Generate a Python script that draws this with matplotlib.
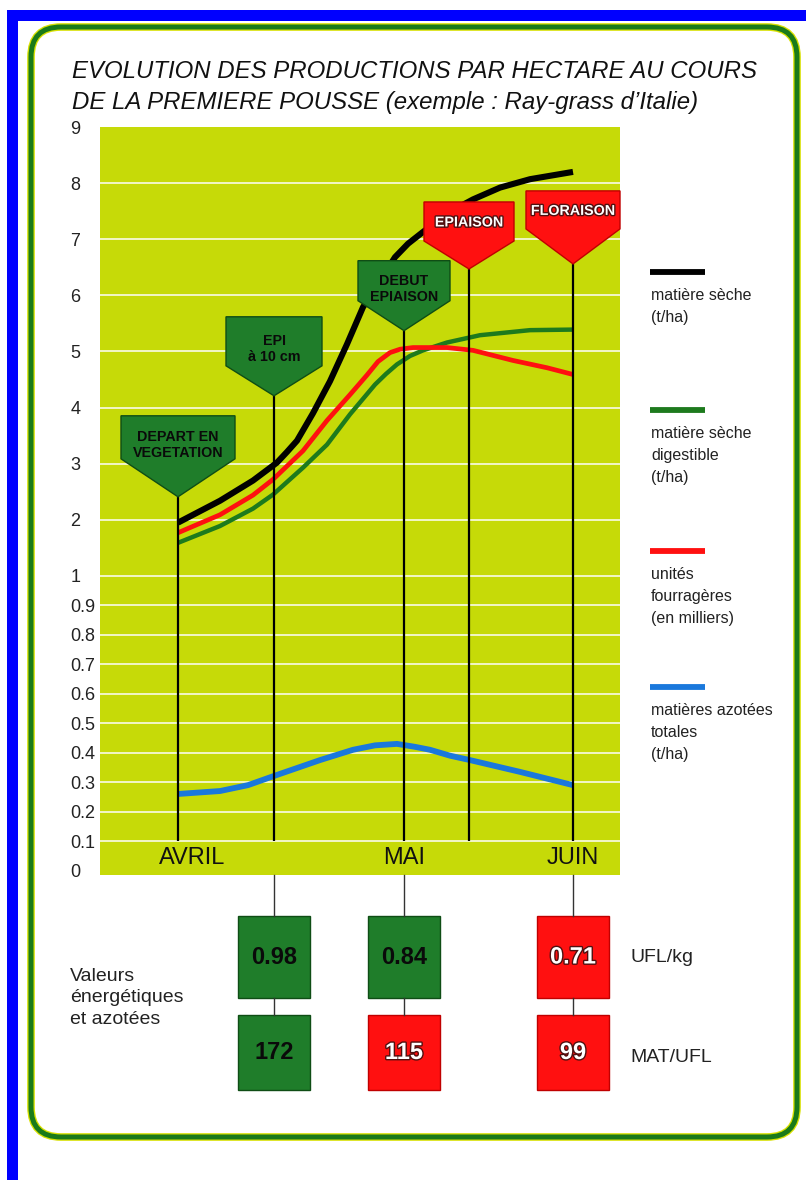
import numpy as np
import matplotlib
matplotlib.use("Agg")
import matplotlib.pyplot as plt
import matplotlib.patheffects as pe
from matplotlib.patches import Polygon, Rectangle, FancyBboxPatch
from matplotlib.lines import Line2D
from matplotlib.transforms import blended_transform_factory, IdentityTransform

plt.rcParams['font.family'] = ['Liberation Sans', 'DejaVu Sans']

W, H = 806, 1180

# stades phenologiques (axe x en jours, origine arbitraire)
stades = ["DEPART EN\nVEGETATION", "EPI\nà 10 cm", "DEBUT\nEPIAISON", "EPIAISON", "FLORAISON"]
stades_x = [15.6, 34.8, 60.8, 73.8, 94.6]
mois = ["AVRIL", "MAI", "JUIN"]
mois_x = [18.4, 60.8, 94.6]

# matiere seche (t/ha)
ms_x = [15.6, 24.0, 30.6, 35.4, 37.4, 39.4, 42.6, 46.0, 49.4, 52.6, 56.0, 59.0, 61.6,
        64.6, 69.6, 74.6, 80.0, 86.0, 94.6]
ms_y = [1.95, 2.34, 2.70, 3.02, 3.21, 3.41, 3.90, 4.47, 5.13, 5.79, 6.26, 6.68, 6.92,
        7.13, 7.47, 7.71, 7.92, 8.07, 8.20]

# matiere seche digestible (t/ha)
msd_x = [15.6, 24.0, 30.6, 34.6, 40.6, 45.4, 50.0, 55.0, 57.2, 59.4, 62.0, 64.6, 69.4,
         76.0, 86.0, 94.6]
msd_y = [1.59, 1.89, 2.20, 2.45, 2.93, 3.34, 3.88, 4.41, 4.60, 4.77, 4.92, 5.02, 5.16,
         5.29, 5.38, 5.39]

# unites fourrageres (milliers)
uf_x = [15.6, 24.0, 30.6, 34.6, 40.6, 45.4, 50.0, 53.4, 55.6, 58.0, 60.0, 62.6, 69.4,
        74.6, 82.6, 89.4, 94.6]
uf_y = [1.77, 2.09, 2.44, 2.72, 3.23, 3.77, 4.23, 4.58, 4.82, 4.98, 5.04, 5.07, 5.07,
        5.02, 4.84, 4.71, 4.59]

# matieres azotees totales (t/ha)
mat_x = [15.6, 24.0, 29.6, 34.6, 44.0, 50.6, 55.0, 59.4, 63.0, 66.0, 70.0, 74.0, 84.0, 94.6]
mat_y = [0.26, 0.27, 0.29, 0.32, 0.375, 0.41, 0.425, 0.43, 0.42, 0.41, 0.39, 0.375, 0.335, 0.29]

yticks = [0, 0.1, 0.2, 0.3, 0.4, 0.5, 0.6, 0.7, 0.8, 0.9, 1, 2, 3, 4, 5, 6, 7, 8, 9]
ytick_labels = ["0", "0.1", "0.2", "0.3", "0.4", "0.5", "0.6", "0.7", "0.8", "0.9",
                "1", "2", "3", "4", "5", "6", "7", "8", "9"]
grid_y = [0.1, 0.2, 0.3, 0.4, 0.5, 0.6, 0.7, 0.8, 0.9, 1, 2, 3, 4, 5, 6, 7, 8]

# valeurs energetiques et azotees
boites_stade = [1, 2, 4]
ufl_kg = [0.98, 0.84, 0.71]
mat_ufl = [172, 115, 99]

legende = ["matière sèche\n(t/ha)", "matière sèche\ndigestible\n(t/ha)",
           "unités\nfourragères\n(en milliers)", "matières azotées\ntotales\n(t/ha)"]

VERT = '#1f7d2a'
VERT_F = '#0f4d15'
ROUGE = '#ff1010'
ROUGE_F = '#c00000'
BLEU = '#1a78dc'

# echelle en deux morceaux : 0-1 dilate, 1-9 normal
K = 5.25


def fwd(y):
    y = np.asarray(y, dtype=float)
    return np.where(y <= 1, y * K, K + (y - 1))


def inv(t):
    t = np.asarray(t, dtype=float)
    return np.where(t <= K, t / K, 1 + (t - K))


fig = plt.figure(figsize=(W / 100, H / 100), dpi=100)
fig.patch.set_facecolor('white')

px = IdentityTransform()
# cadre bleu
fig.add_artist(Rectangle((7, 0), 11, H - 10, transform=px, fc='#0000ff', ec='none'))
fig.add_artist(Rectangle((7, H - 21), W - 7, 11, transform=px, fc='#0000ff', ec='none'))
# cadre vert arrondi
fig.add_artist(FancyBboxPatch((31, H - 1137), 766, 1110, boxstyle="round,pad=0,rounding_size=30",
                              transform=px, fc='none', ec='#d8e000', lw=5.5))
fig.add_artist(FancyBboxPatch((31, H - 1137), 766, 1110, boxstyle="round,pad=0,rounding_size=30",
                              transform=px, fc='none', ec='#1a7a1a', lw=3.6))

fig.text(72 / W, 1 - 72 / H, "EVOLUTION DES PRODUCTIONS PAR HECTARE AU COURS",
         style='italic', fontsize=17.3, ha='left', va='center', color='#111')
fig.text(72 / W, 1 - 103 / H, "DE LA PREMIERE POUSSE (exemple : Ray-grass d’Italie)",
         style='italic', fontsize=17.3, ha='left', va='center', color='#111')

ax = fig.add_axes([100 / W, (H - 875) / H, 520 / W, (875 - 127) / H])
ax.set_yscale('function', functions=(fwd, inv))
ax.set_xlim(0, 104)
ax.set_ylim(-0.015, 9)
ax.set_facecolor('#c6da08')
for s in ax.spines.values():
    s.set_visible(False)
ax.set_xticks([])
ax.set_yticks(yticks)
ax.set_yticklabels(ytick_labels, ha='left', fontsize=13, color='#222')
ax.tick_params(axis='y', length=0, pad=21.5)

for g in grid_y:
    ax.axhline(g, color='white', lw=1.2, alpha=0.9, zorder=1)

kw = dict(solid_capstyle='butt', solid_joinstyle='round', zorder=3)
ax.plot(ms_x, ms_y, color='black', lw=4.4, **kw)
ax.plot(msd_x, msd_y, color='#1d7a1d', lw=3.2, **kw)
ax.plot(uf_x, uf_y, color=ROUGE, lw=3.4, **kw)
ax.plot(mat_x, mat_y, color=BLEU, lw=4.2, **kw)

# fleches des stades (tailles en pixels)
PXU = 56.1
tips = [2.41, 4.21, 5.37, 6.47, 6.56]
demi_l = [57, 48, 46, 45, 47]
h_pointe = [38, 30, 30, 28, 35]
h_rect = [43, 49, 40, 39, 38]
coul = [VERT, VERT, VERT, ROUGE, ROUGE]

ax.vlines(stades_x, 0.1, tips, colors='black', lw=1.6, zorder=4)

for i, x0 in enumerate(stades_x):
    dx = demi_l[i] / 5.0
    dp = h_pointe[i] / PXU
    dr = h_rect[i] / PXU
    t = tips[i]
    pts = [(x0, t), (x0 - dx, t + dp), (x0 - dx, t + dp + dr), (x0 + dx, t + dp + dr), (x0 + dx, t + dp)]
    ec = VERT_F if coul[i] == VERT else ROUGE_F
    ax.add_patch(Polygon(pts, closed=True, fc=coul[i], ec=ec, lw=1, zorder=5, clip_on=False))
    two = "\n" in stades[i]
    yc = t + dp + dr / 2 - (8 if two else 1) / PXU
    if coul[i] == VERT:
        ax.text(x0, yc, stades[i], ha='center', va='center', fontsize=10.3, fontweight='bold',
                color='#0a0a0a', linespacing=1.2, zorder=6)
    else:
        ax.text(x0, yc, stades[i], ha='center', va='center', fontsize=10.3, fontweight='bold',
                color='white', zorder=6,
                path_effects=[pe.withStroke(linewidth=2, foreground='#501010')])

for m, x0 in zip(mois, mois_x):
    ax.text(x0, 0.043, m, ha='center', va='center', fontsize=17, color='#111', zorder=6)

# legende
leg_coul = ['black', '#1d7a1d', ROUGE, BLEU]
leg_y = [272, 410, 551, 687]
for c, yy, txt in zip(leg_coul, leg_y, legende):
    fig.add_artist(Line2D([650, 705], [H - yy, H - yy], transform=px, color=c, lw=4.2,
                          solid_capstyle='butt'))
    fig.text(651 / W, 1 - (yy + 16) / H, txt, ha='left', va='top', fontsize=11.5,
             color='#222', linespacing=1.6)

# boites du bas
tb = blended_transform_factory(ax.transData, px)
haut = [(916, 998), (1015, 1090)]
coul_haut = [VERT, VERT, ROUGE]
coul_bas = [VERT, ROUGE, ROUGE]
for j, si in enumerate(boites_stade):
    x0 = stades_x[si]
    ax.plot([x0, x0], [H - 875, H - 916], transform=tb, color='#333', lw=1, clip_on=False)
    ax.plot([x0, x0], [H - 998, H - 1015], transform=tb, color='#333', lw=1, clip_on=False)
    for (y1, y2), c, txt in zip(haut, [coul_haut[j], coul_bas[j]],
                                [f"{ufl_kg[j]:.2f}", f"{mat_ufl[j]:d}"]):
        ec = VERT_F if c == VERT else ROUGE_F
        ax.add_patch(Rectangle((x0 - 7.2, H - y2), 14.4, y2 - y1, transform=tb, fc=c, ec=ec,
                               lw=1, clip_on=False))
        if c == VERT:
            ax.text(x0, H - (y1 + y2) / 2, txt, transform=tb, ha='center', va='center',
                    fontsize=17, fontweight='bold', color='#0a0a0a', clip_on=False)
        else:
            ax.text(x0, H - (y1 + y2) / 2, txt, transform=tb, ha='center', va='center',
                    fontsize=17, fontweight='bold', color='white', clip_on=False,
                    path_effects=[pe.withStroke(linewidth=2, foreground='#501010')])

fig.text(70 / W, 1 - 998 / H, "Valeurs\nénergétiques\net azotées", ha='left', va='center',
         fontsize=14, color='#222', linespacing=1.35)
fig.text(630 / W, 1 - 958 / H, "UFL/kg", ha='left', va='center', fontsize=14, color='#222')
fig.text(630 / W, 1 - 1058 / H, "MAT/UFL", ha='left', va='center', fontsize=14, color='#222')

fig.savefig("out.png", dpi=100)
